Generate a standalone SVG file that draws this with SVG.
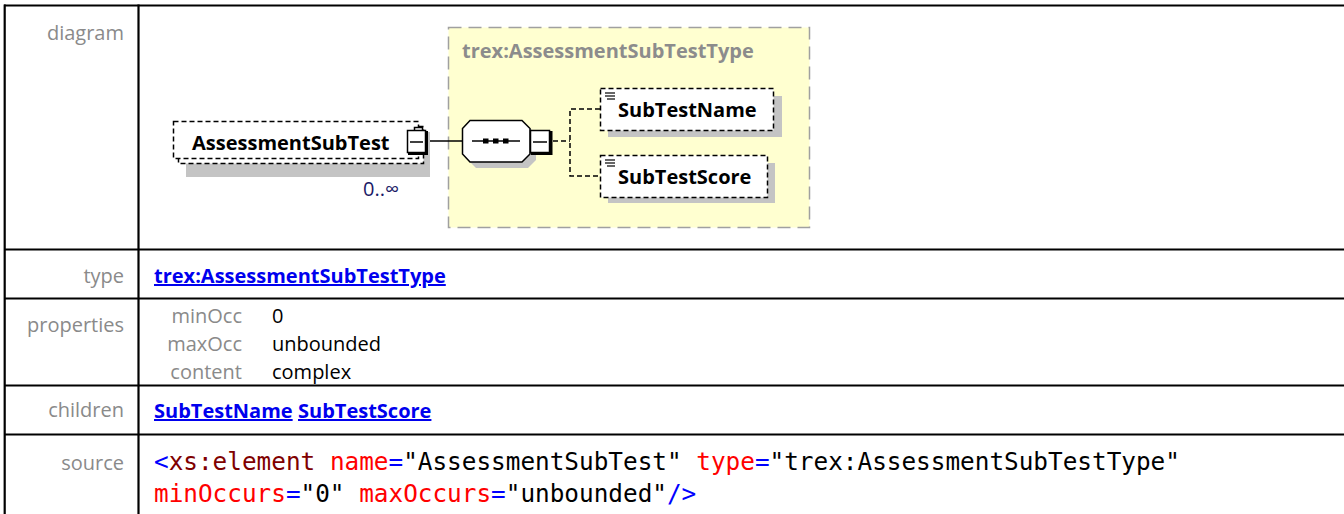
<svg xmlns="http://www.w3.org/2000/svg" width="1344" height="514" viewBox="0 0 1344 514">
<style>
.lbl{font-family:"Open Sans","Noto Sans",sans-serif;font-size:20px;fill:#8a8a8a;text-anchor:end}
.val{font-family:"Open Sans","Noto Sans",sans-serif;font-size:20px;fill:#000}
.lnk{font-family:"Open Sans","Noto Sans",sans-serif;font-size:20px;font-weight:bold;fill:#0000ee;text-decoration:underline}
.el{font-family:"Open Sans","Noto Sans",sans-serif;font-size:20px;font-weight:bold;fill:#000}
.src{font-family:"DejaVu Sans Mono","Liberation Mono",monospace;font-size:24.35px;fill:#000}
.grid{stroke:#000;stroke-width:2.2;fill:none}
.dbox{fill:#fff;stroke:#000;stroke-width:1.5;stroke-dasharray:5 3}
.shadow{fill:#c4c4c4}
.conn{stroke:#000;stroke-width:1.5;fill:none}
.dconn{stroke:#000;stroke-width:1.5;fill:none;stroke-dasharray:5 3}
.mbox{fill:#fff;stroke:#000;stroke-width:1.5}
</style>

<g id="table">
<line class="grid" x1="4" y1="5.5" x2="1344" y2="5.5"/>
<line class="grid" x1="4" y1="249.5" x2="1344" y2="249.5"/>
<line class="grid" x1="4" y1="298.5" x2="1344" y2="298.5"/>
<line class="grid" x1="4" y1="385.5" x2="1344" y2="385.5"/>
<line class="grid" x1="4" y1="434.5" x2="1344" y2="434.5"/>
<line class="grid" x1="4.7" y1="4.5" x2="4.7" y2="514"/>
<line class="grid" x1="138.5" y1="4.5" x2="138.5" y2="514"/>
<text class="lbl" x="124" y="40">diagram</text>
<text class="lbl" x="124" y="283">type</text>
<text class="lbl" x="124" y="332">properties</text>
<text class="lbl" x="124" y="417">children</text>
<text class="lbl" x="124" y="470">source</text>
</g>

<g id="type-box">
<rect x="448.5" y="27.5" width="361" height="200" fill="#ffffd0" stroke="#a0a0a0" stroke-width="1.5" stroke-dasharray="13 7"/>
<text class="el" x="462" y="58" style="fill:#8c8c8c">trex:AssessmentSubTestType</text>
</g>

<g id="connectors">
<line class="conn" x1="428" y1="141" x2="462" y2="141"/>
<line class="dconn" x1="553" y1="141" x2="570" y2="141"/>
<polyline class="dconn" points="600,109 570,109 570,176 600,176"/>
<polyline class="dconn" points="388,163 395,171 401,164" stroke-width="1.2"/>
</g>

<g id="AssessmentSubTest">
<rect class="shadow" x="186" y="132" width="244" height="45"/>
<rect class="dbox" x="178.5" y="126.5" width="245" height="37"/>
<rect class="dbox" x="173.5" y="121.5" width="245" height="37"/>
<text class="el" x="192" y="150">AssessmentSubTest</text>
<rect class="mbox" x="414.5" y="127.5" width="8" height="4"/>
<rect class="mbox" x="407.5" y="130.5" width="18" height="22"/>
<polyline points="426.5,131 426.5,153.5 408,153.5" fill="none" stroke="#000" stroke-width="3"/>
<line x1="410" y1="142" x2="423" y2="142" stroke="#000" stroke-width="1.5"/>
<text x="363" y="196" font-family="Open Sans, Noto Sans, sans-serif" font-size="20" fill="#1a1a66">0..∞</text>
</g>

<g id="sequence">
<polygon class="shadow" points="476,126 528,126 536,134 536,160 528,168 476,168 468,160 468,134"/>
<polygon points="470,120.5 522,120.5 530,128.5 530,154 522,162 470,162 462.5,154 462.5,128.5" fill="#fff" stroke="#000" stroke-width="1.5"/>
<line x1="472" y1="141" x2="520" y2="141" stroke="#000" stroke-width="1.5"/>
<rect x="483" y="138.5" width="5.5" height="5" fill="#000"/>
<rect x="493" y="138.5" width="5.5" height="5" fill="#000"/>
<rect x="503" y="138.5" width="5.5" height="5" fill="#000"/>
<rect class="mbox" x="530.5" y="130.5" width="19" height="22"/>
<polyline points="551,131 551,153.5 531,153.5" fill="none" stroke="#000" stroke-width="3"/>
<line x1="533" y1="142" x2="547" y2="142" stroke="#000" stroke-width="1.5"/>
</g>

<g id="SubTestName">
<rect class="shadow" x="608" y="96" width="174" height="41"/>
<rect class="dbox" x="600.5" y="88.5" width="173" height="42"/>
<g stroke="#000" stroke-width="1.2"><line x1="605" y1="93" x2="615" y2="93"/><line x1="605" y1="96" x2="615" y2="96"/><line x1="607" y1="99" x2="615" y2="99"/></g>
<text class="el" x="618" y="117">SubTestName</text>
</g>

<g id="SubTestScore">
<rect class="shadow" x="608" y="163" width="167" height="40"/>
<rect class="dbox" x="600.5" y="155.5" width="167" height="42"/>
<g stroke="#000" stroke-width="1.2"><line x1="605" y1="160" x2="615" y2="160"/><line x1="605" y1="163" x2="615" y2="163"/><line x1="607" y1="166" x2="615" y2="166"/></g>
<text class="el" x="618" y="184">SubTestScore</text>
</g>

<g id="details">
<text class="lnk" x="154" y="283">trex:AssessmentSubTestType</text>
<text class="lbl" x="242" y="323">minOcc</text>
<text class="lbl" x="242" y="351">maxOcc</text>
<text class="lbl" x="242" y="379">content</text>
<text class="val" x="272" y="323">0</text>
<text class="val" x="272" y="351">unbounded</text>
<text class="val" x="272" y="379">complex</text>
<text class="lnk" x="154" y="418">SubTestName</text>
<text class="lnk" x="298" y="418">SubTestScore</text>
<text class="src" x="154" y="470"><tspan fill="#0000ff">&lt;</tspan><tspan fill="#800000">xs:element</tspan> <tspan fill="#ff0000">name</tspan><tspan fill="#0000ff">=</tspan>"AssessmentSubTest" <tspan fill="#ff0000">type</tspan><tspan fill="#0000ff">=</tspan>"trex:AssessmentSubTestType"</text>
<text class="src" x="154" y="502"><tspan fill="#ff0000">minOccurs</tspan><tspan fill="#0000ff">=</tspan>"0" <tspan fill="#ff0000">maxOccurs</tspan><tspan fill="#0000ff">=</tspan>"unbounded"<tspan fill="#0000ff">/&gt;</tspan></text>
</g>
</svg>
